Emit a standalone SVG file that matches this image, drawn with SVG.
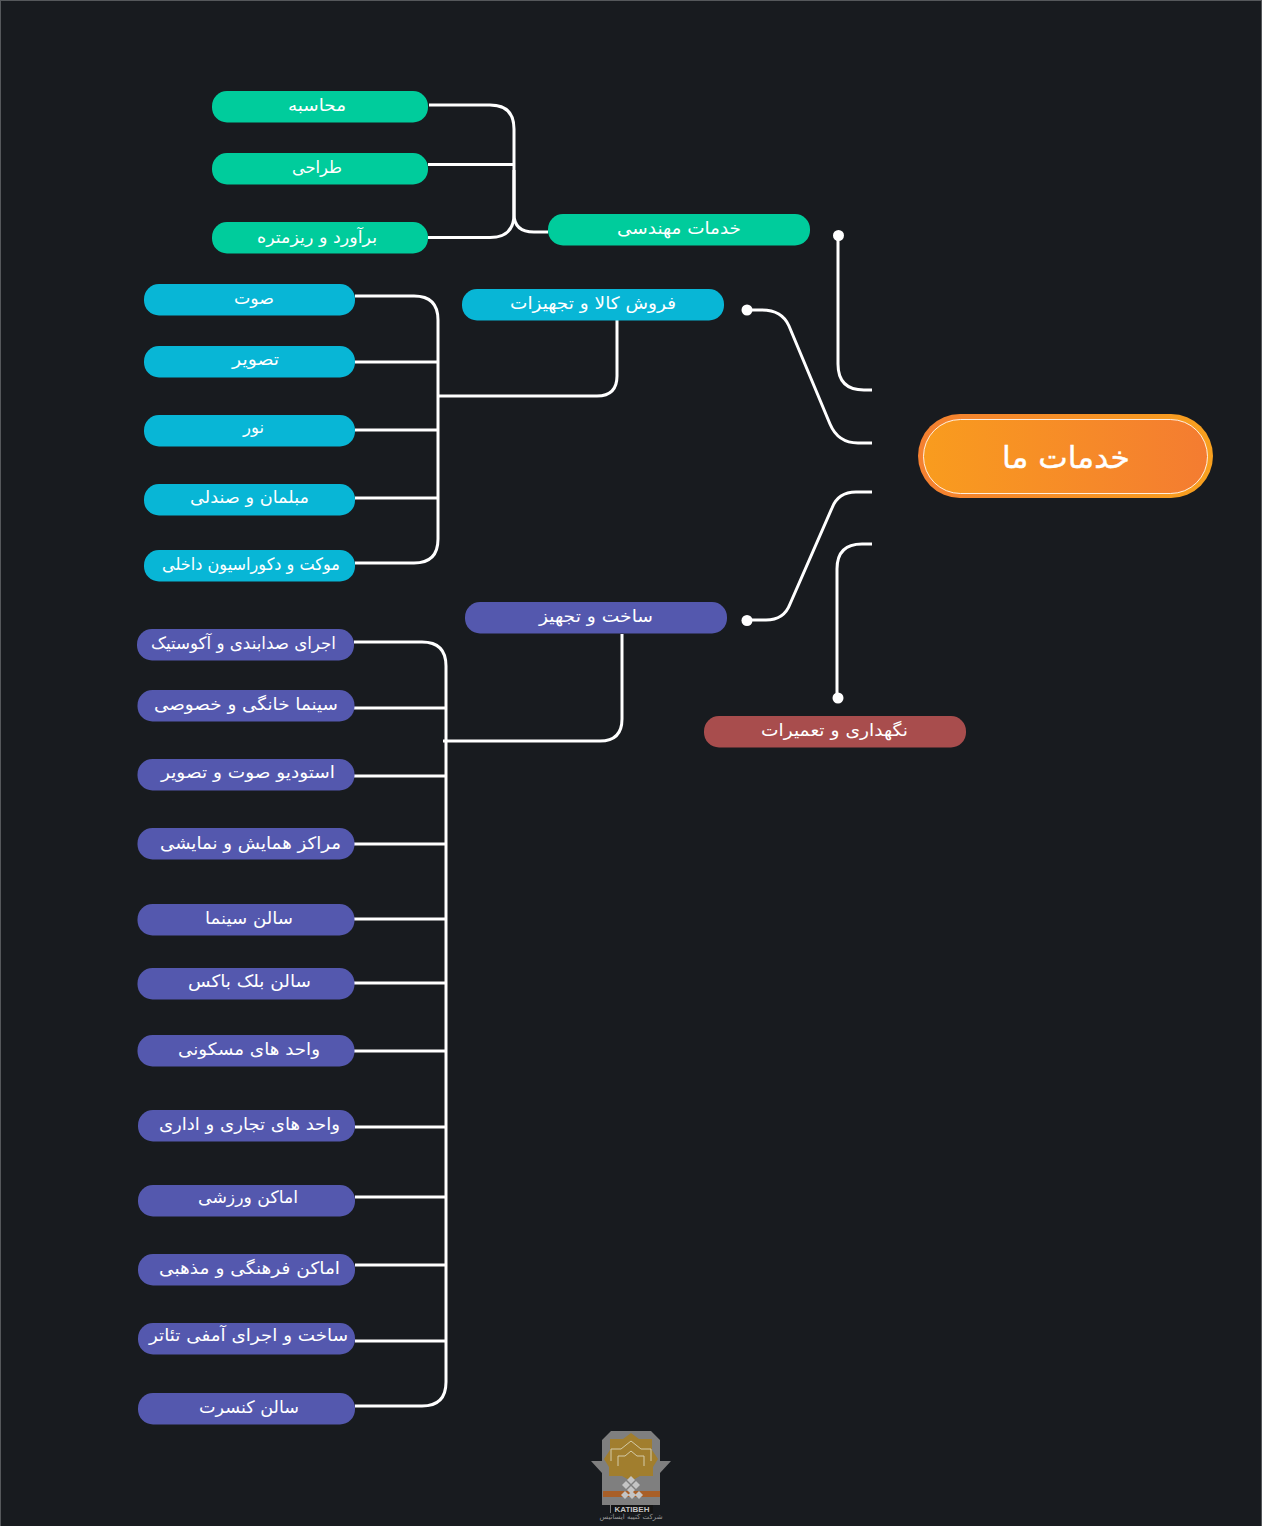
<svg xmlns="http://www.w3.org/2000/svg" width="1262" height="1526" viewBox="0 0 1262 1526">
<style>
.n{font-family:"DejaVu Sans",sans-serif;font-size:17px;fill:#fff;text-anchor:middle;direction:rtl}
.c{fill:none;stroke:#fff;stroke-width:3}
.g{fill:#00cc9c}.b{fill:#08b6d6}.p{fill:#5458ae}.r{fill:#a84d4d}
</style>
<defs>
<linearGradient id="g1" x1="0" x2="1" y1="0" y2="0"><stop offset="0" stop-color="#f48030"/><stop offset="1" stop-color="#f8a01e"/></linearGradient>
<linearGradient id="g2" x1="0" x2="1" y1="0" y2="0"><stop offset="0" stop-color="#f99c1e"/><stop offset="1" stop-color="#f47c31"/></linearGradient>
</defs>
<rect width="1262" height="1526" fill="#181b1f"/>
<path d="M0 .5H1262M.5 0V1526M1261.500 0V1526" stroke="#55585b" fill="none"/>
<g id="connectors">
<path class="c" d="M429 105H490Q514 105 514 129V214Q514 232 534 232H548"/>
<path class="c" d="M428 164.500H514"/>
<path class="c" d="M428 237.500H490Q514 237.500 514 214V170"/>
<path class="c" d="M355 296H414Q438 296 438 320V539Q438 563 414 563H355"/>
<path class="c" d="M355 362H438M355 430H438M355 498H438"/>
<path class="c" d="M438 396H597Q617 396 617 376V320"/>
<path class="c" d="M354 642H422Q446 642 446 666V1382Q446 1406 422 1406H355"/>
<path class="c" d="M354 708H446M354 776H446M354 844H446M354 919H446M354 983H446M354 1051H446M355 1127H446M355 1197H446M355 1265H446M355 1341H446"/>
<path class="c" d="M443 741H600Q622 741 622 719V634"/>
<path class="c" d="M838 236V364Q838 390 864 390H872"/>
<path class="c" d="M747 310H762Q782 310 789 326L830 424Q838 443 858 443H872"/>
<path class="c" d="M747 620H766Q784 620 790 604L832 508Q838 492 856 492H872"/>
<path class="c" d="M837 698V569Q837 544 862 544H872"/>
<g fill="#fff"><circle cx="838.500" cy="235.500" r="5.500"/><circle cx="747" cy="310" r="5.500"/><circle cx="747" cy="620.500" r="5.500"/><circle cx="838" cy="698" r="5.500"/></g>
</g>
<g id="root"><rect x="918" y="414" width="295" height="84" rx="42" fill="url(#g1)"/><rect x="923.500" y="419.500" width="284" height="74" rx="37" fill="url(#g2)" stroke="#fff" stroke-opacity=".85" stroke-width="1"/><text x="1066" y="468" class="n" style="font-size:30px" stroke="#fff" stroke-width=".4" textLength="128" lengthAdjust="spacingAndGlyphs">خدمات ما</text></g>
<g id="n1"><rect class="g" x="212" y="91" width="216" height="31.500" rx="15"/><text class="n" x="317" y="111" textLength="58" lengthAdjust="spacingAndGlyphs">محاسبه</text></g>
<g id="n2"><rect class="g" x="212" y="153" width="216" height="31.500" rx="15"/><text class="n" x="317" y="173" textLength="50" lengthAdjust="spacingAndGlyphs">طراحی</text></g>
<g id="n3"><rect class="g" x="212" y="222" width="216" height="31.500" rx="15"/><text class="n" x="317" y="243" textLength="120" lengthAdjust="spacingAndGlyphs">برآورد و ریزمتره</text></g>
<g id="n4"><rect class="g" x="548" y="214" width="262" height="31.500" rx="15"/><text class="n" x="679" y="234" textLength="124" lengthAdjust="spacingAndGlyphs">خدمات مهندسی</text></g>
<g id="n5"><rect class="b" x="462" y="289" width="262" height="31.500" rx="15"/><text class="n" x="593" y="309" textLength="166" lengthAdjust="spacingAndGlyphs">فروش کالا و تجهیزات</text></g>
<g id="n6"><rect class="b" x="144" y="284" width="211" height="31.500" rx="15"/><text class="n" x="254" y="304" textLength="40" lengthAdjust="spacingAndGlyphs">صوت</text></g>
<g id="n7"><rect class="b" x="144" y="346" width="211" height="31.500" rx="15"/><text class="n" x="255.500" y="365" textLength="47" lengthAdjust="spacingAndGlyphs">تصویر</text></g>
<g id="n8"><rect class="b" x="144" y="415" width="211" height="31.500" rx="15"/><text class="n" x="253.500" y="433" textLength="21" lengthAdjust="spacingAndGlyphs">نور</text></g>
<g id="n9"><rect class="b" x="144" y="484" width="211" height="31.500" rx="15"/><text class="n" x="249.500" y="503" textLength="119" lengthAdjust="spacingAndGlyphs">مبلمان و صندلی</text></g>
<g id="n10"><rect class="b" x="144" y="550" width="211" height="31.500" rx="15"/><text class="n" x="251" y="570" textLength="178" lengthAdjust="spacingAndGlyphs">موکت و دکوراسیون داخلی</text></g>
<g id="n11"><rect class="p" x="465" y="602" width="262" height="31.500" rx="15"/><text class="n" x="596" y="622" textLength="114" lengthAdjust="spacingAndGlyphs">ساخت و تجهیز</text></g>
<g id="n12"><rect class="r" x="704" y="716" width="262" height="31.500" rx="15"/><text class="n" x="834.500" y="736" textLength="147" lengthAdjust="spacingAndGlyphs">نگهداری و تعمیرات</text></g>
<g id="n13"><rect class="p" x="137" y="629" width="217" height="31.500" rx="15"/><text class="n" x="243.500" y="649" textLength="185" lengthAdjust="spacingAndGlyphs">اجرای صدابندی و آکوستیک</text></g>
<g id="n14"><rect class="p" x="137.500" y="690" width="217" height="31.500" rx="15"/><text class="n" x="246" y="710" textLength="184" lengthAdjust="spacingAndGlyphs">سینما خانگی و خصوصی</text></g>
<g id="n15"><rect class="p" x="137.500" y="759" width="217" height="31.500" rx="15"/><text class="n" x="248" y="778" textLength="174" lengthAdjust="spacingAndGlyphs">استودیو صوت و تصویر</text></g>
<g id="n16"><rect class="p" x="137.500" y="828" width="217" height="31.500" rx="15"/><text class="n" x="250.500" y="849" textLength="181" lengthAdjust="spacingAndGlyphs">مراکز همایش و نمایشی</text></g>
<g id="n17"><rect class="p" x="137.500" y="904" width="217" height="31.500" rx="15"/><text class="n" x="249" y="924" textLength="88" lengthAdjust="spacingAndGlyphs">سالن سینما</text></g>
<g id="n18"><rect class="p" x="137.500" y="968" width="217" height="31.500" rx="15"/><text class="n" x="249.500" y="987" textLength="123" lengthAdjust="spacingAndGlyphs">سالن بلک باکس</text></g>
<g id="n19"><rect class="p" x="137.500" y="1035" width="217" height="31.500" rx="15"/><text class="n" x="249" y="1055" textLength="142" lengthAdjust="spacingAndGlyphs">واحد های مسکونی</text></g>
<g id="n20"><rect class="p" x="138" y="1110" width="217" height="31.500" rx="15"/><text class="n" x="249.500" y="1130" textLength="181" lengthAdjust="spacingAndGlyphs">واحد های تجاری و اداری</text></g>
<g id="n21"><rect class="p" x="138" y="1185" width="217" height="31.500" rx="15"/><text class="n" x="248" y="1203" textLength="100" lengthAdjust="spacingAndGlyphs">اماکن ورزشی</text></g>
<g id="n22"><rect class="p" x="138" y="1254" width="217" height="31.500" rx="15"/><text class="n" x="249.500" y="1274" textLength="181" lengthAdjust="spacingAndGlyphs">اماکن فرهنگی و مذهبی</text></g>
<g id="n23"><rect class="p" x="138" y="1323" width="217" height="31.500" rx="15"/><text class="n" x="248.500" y="1341" textLength="199" lengthAdjust="spacingAndGlyphs">ساخت و اجرای آمفی تئاتر</text></g>
<g id="n24"><rect class="p" x="138" y="1393" width="217" height="31.500" rx="15"/><text class="n" x="249" y="1413" textLength="100" lengthAdjust="spacingAndGlyphs">سالن کنسرت</text></g>
<g id="logo">
<path fill="#7f7f7f" d="M611 1431H651L660 1440V1461H671L660 1473V1505H653V1513H610V1505H602V1473L591 1461H602V1440Z"/>
<path fill="#a17e2e" d="M631 1433L639 1439H652V1450L658 1459L653 1467V1476H640L631 1481L622 1476H609V1467L604 1459L610 1450V1439H623Z"/>
<path fill="none" stroke="#d4cba8" stroke-width="1" d="M611 1461V1449H621L631 1441L641 1449H651V1461M618 1466V1456H625L631 1451L637 1456H644V1466"/>
<rect x="603" y="1491" width="57" height="6" fill="#a85f28"/>
<path fill="#c4c4c4" d="M631 1476l4 4-4 4-4-4zM626 1481l4 4-4 4-4-4zM636 1481l4 4-4 4-4-4zM631 1486l4 4-4 4-4-4zM625 1491l4 4-4 4-4-4zM632 1491l4 4-4 4-4-4zM639 1491l4 4-4 4-4-4z"/>
<rect x="611" y="1505" width="42" height="8" fill="#141414"/>
<text x="632" y="1512" font-family="Liberation Sans,sans-serif" font-size="8" font-weight="700" fill="#c4c4c4" text-anchor="middle">KATIBEH</text>
<text x="631" y="1519" font-family="DejaVu Sans,sans-serif" font-size="7" fill="#999" text-anchor="middle">شرکت کتیبه ایساتیس</text>
</g>
</svg>
